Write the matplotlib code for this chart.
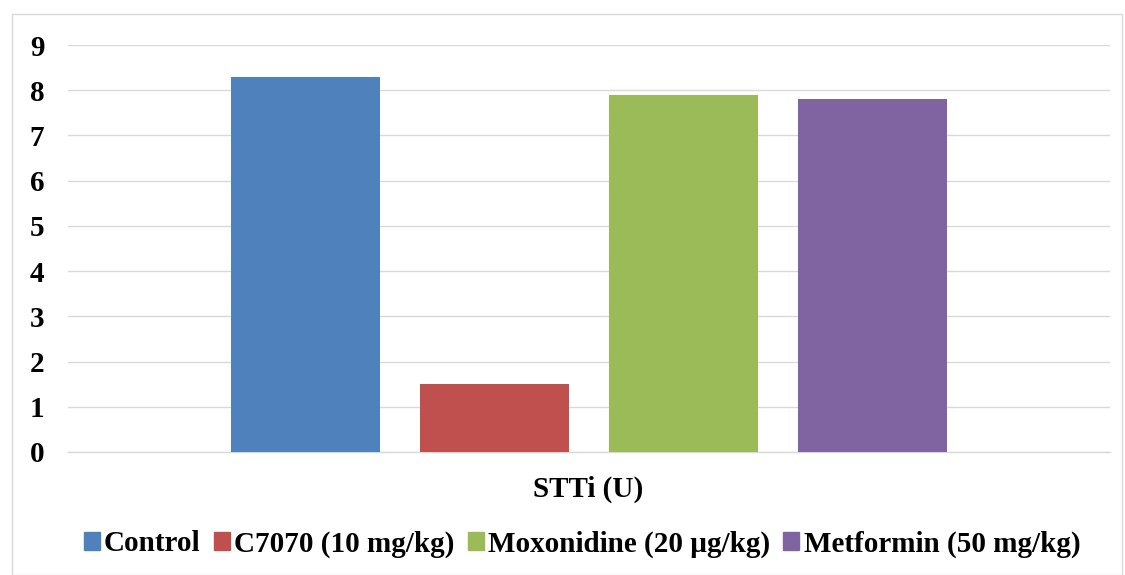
import matplotlib
matplotlib.use("Agg")
import matplotlib.pyplot as plt
from matplotlib.patches import Rectangle

categories = ["Control", "C7070 (10 mg/kg)", "Moxonidine (20 µg/kg)", "Metformin (50 mg/kg)"]
values = [8.3, 1.5, 7.9, 7.8]
colors = ["#4F81BD", "#C0504D", "#9BBB59", "#8064A2"]
yticks = list(range(0, 10))
xlabel = "STTi (U)"

plt.rcParams["font.family"] = ["Liberation Serif", "DejaVu Serif"]
plt.rcParams["font.weight"] = "bold"

fig = plt.figure(figsize=(11.25, 5.75), dpi=100)
fig.patches.append(Rectangle((12 / 1125, 0), 1110 / 1125, 1 - 14 / 575, transform=fig.transFigure,
                             fill=False, edgecolor="#D9D9D9", linewidth=1))
ax = fig.add_axes([68 / 1125, 1 - 452 / 575, (1110 - 68) / 1125, (452 - 45) / 575])

x = list(range(len(values)))
bars = ax.bar(x, values, width=149 / 189, color=colors, zorder=3, label=None)
half = (1110 - 68) / 189 / 2
ax.set_xlim(1.5 - half, 1.5 + half)
ax.set_ylim(0, 9)
ax.set_yticks(yticks)
ax.set_yticklabels([str(t) for t in yticks], fontsize=21, fontweight="bold")
ax.set_xticks([])
ax.tick_params(axis="y", length=0, pad=17)
ax.grid(axis="y", color="#D9D9D9", linewidth=1, zorder=0)
for s in ["top", "right", "left"]:
    ax.spines[s].set_visible(False)
ax.spines["bottom"].set_color("#D9D9D9")
ax.spines["bottom"].set_linewidth(1)
ax.spines["bottom"].set_zorder(1)

fig.text(588 / 1125, 1 - 489 / 575, xlabel, ha="center", va="center", fontsize=21, fontweight="bold")

handles = [Rectangle((0, 0), 1, 1, color=c) for c in colors]
fig.legend(handles, categories, loc="center", bbox_to_anchor=(582 / 1125, 1 - 544 / 575), ncol=4,
           frameon=False, prop={"size": 21, "weight": "bold"}, handlelength=0.55, handleheight=0.55,
           handletextpad=0.15, columnspacing=0.45)

fig.savefig("out.png", dpi=100)
